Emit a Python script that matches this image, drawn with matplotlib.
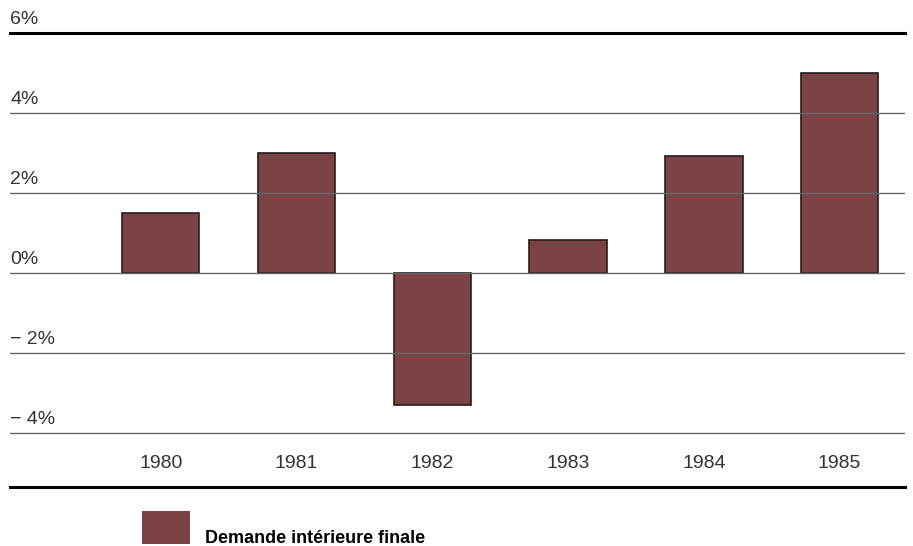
import matplotlib.pyplot as plt
import matplotlib.transforms as mtransforms
from matplotlib.patches import Rectangle

years = ['1980', '1981', '1982', '1983', '1984', '1985']
values = [1.5, 3.0, -3.3, 0.83, 2.93, 5.0]
grid_levels = [-4, -2, 0, 2, 4]
tick_labels = ['\u2212 4%', '\u2212 2%', '0%', '2%', '4%', '6%']
legend_label = 'Demande intérieure finale'

bar_color = '#7a4446'
font_light = ['Liberation Sans', 'DejaVu Sans']

fig = plt.figure(figsize=(9.13, 5.46), dpi=100, facecolor='white')
ax = fig.add_axes([0.011, 0.108, 0.98, 0.8316])

x = list(range(len(years)))
ax.bar(x, values, width=0.57, color=bar_color, edgecolor='#2a1a1a', linewidth=1.2, zorder=2)

# grid lines sit on top of the bars, like in the print
for g in grid_levels:
    ax.axhline(g, color='#666666', linewidth=1.0, zorder=3)

ax.set_xlim(-1.11, 5.48)
ax.set_ylim(-5.35, 6)
ax.set_xticks([])
ax.set_yticks([])
for side in ['left', 'right']:
    ax.spines[side].set_visible(False)
ax.spines['top'].set_linewidth(2.2)
ax.spines['bottom'].set_linewidth(2.2)

# value labels just above each line, at the left edge
trans = mtransforms.blended_transform_factory(ax.transAxes, ax.transData)
for lvl, lab in zip(grid_levels + [6], tick_labels):
    ax.text(0.0, lvl + 0.13, lab, transform=trans, ha='left', va='bottom',
            fontsize=14, color='#333333', family=font_light, clip_on=False)

for xi, yr in zip(x, years):
    ax.text(xi, -4.75, yr, ha='center', va='center', fontsize=14,
            color='#333333', family=font_light)

# legend below the chart
fig.patches.append(Rectangle((142 / 913, 0.003), 48 / 913, 33 / 546,
                             transform=fig.transFigure, facecolor=bar_color,
                             edgecolor='none'))
fig.text(205 / 913, 1 - 543 / 546, legend_label, ha='left', va='baseline',
         fontsize=13, fontweight='bold', color='black', family=font_light)

fig.savefig('out.png', dpi=100, facecolor='white')
